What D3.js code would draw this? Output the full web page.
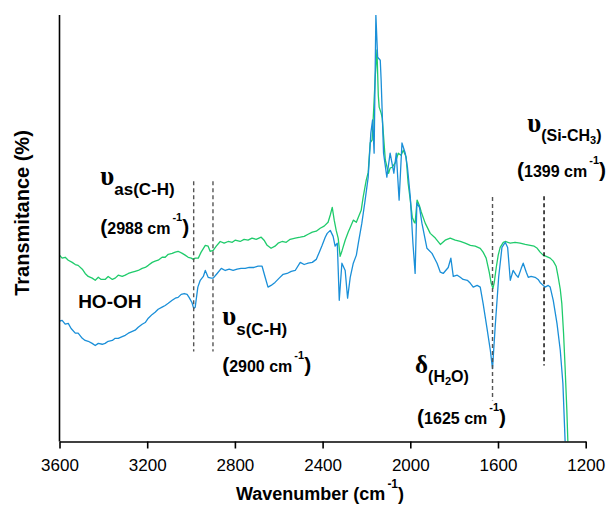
<!DOCTYPE html>
<html>
<head>
<meta charset="utf-8">
<script src="https://cdn.jsdelivr.net/npm/d3@7"></script>
<style>
  body { margin: 0; background: #fff; }
  svg { display: block; }
</style>
</head>
<body>
<script>
const width = 614;
const height = 506;

// spectrum after treatment (green)
const wnGreen = [3600, 3588, 3574, 3560, 3542, 3528, 3515, 3496, 3483, 3469, 3451, 3437, 3423, 3410, 3392, 3378, 3359, 3346, 3332, 3314,
  3300, 3286, 3268, 3255, 3241, 3223, 3209, 3195, 3177, 3164, 3150, 3132, 3118, 3104, 3086, 3072, 3059, 3040, 3027, 3013,
  2999, 2990, 2981, 2967, 2954, 2935, 2922, 2913, 2899, 2885, 2867, 2849, 2831, 2812, 2799, 2776, 2758, 2740, 2722, 2703,
  2680, 2667, 2653, 2635, 2617, 2603, 2585, 2566, 2548, 2525, 2502, 2484, 2466, 2447, 2429, 2411, 2393, 2375, 2365, 2356,
  2347, 2338, 2329, 2320, 2311, 2297, 2283, 2274, 2260, 2246, 2237, 2224, 2215, 2201, 2192, 2183, 2174, 2165, 2160, 2152,
  2146, 2142, 2133, 2128, 2124, 2114, 2105, 2099, 2092, 2083, 2069, 2055, 2042, 2032, 2019, 2010, 2000, 1991, 1982, 1978,
  1969, 1959, 1950, 1932, 1909, 1886, 1863, 1841, 1818, 1795, 1772, 1750, 1726, 1704, 1681, 1668, 1654, 1640, 1631, 1623,
  1617, 1608, 1599, 1590, 1576, 1567, 1544, 1522, 1499, 1476, 1453, 1435, 1421, 1408, 1394, 1380, 1362, 1348, 1335, 1326,
  1316, 1309, 1301, 1294, 1286, 1280];
const tGreen = [43.7, 43.0, 43.2, 42.5, 42.0, 41.5, 41.3, 40.4, 39.4, 38.7, 38.3, 37.8, 38.5, 38.0, 38.0, 38.7, 38.0, 38.3, 39.0, 38.7,
  39.0, 39.4, 39.7, 39.9, 40.1, 40.6, 40.8, 41.3, 42.0, 42.3, 42.5, 43.2, 43.2, 43.9, 44.1, 44.4, 44.6, 44.1, 43.7, 43.2,
  43.0, 42.7, 43.0, 43.0, 44.4, 46.0, 45.8, 44.6, 44.8, 45.8, 46.9, 46.5, 46.9, 46.7, 47.2, 46.9, 47.4, 47.2, 47.7, 47.4,
  47.9, 47.2, 46.0, 45.3, 45.8, 46.5, 46.9, 46.7, 47.4, 47.7, 47.9, 48.1, 48.6, 49.1, 49.3, 50.0, 50.5, 51.4, 53.1, 54.9,
  51.9, 49.5, 47.7, 43.4, 44.8, 47.2, 49.1, 50.2, 51.9, 51.4, 52.6, 54.2, 57.3, 61.3, 63.1, 70.0, 70.7, 80.0, 85.4, 91.8,
  81.2, 78.4, 77.0, 75.8, 73.0, 66.0, 64.1, 62.9, 64.1, 64.3, 65.3, 67.6, 67.1, 68.3, 66.7, 60.6, 56.6, 52.6, 51.4, 51.2,
  56.6, 55.4, 53.8, 51.2, 48.8, 47.7, 46.2, 47.2, 47.7, 47.2, 46.9, 46.5, 46.0, 45.8, 45.3, 44.4, 43.0, 39.7, 37.1, 35.9,
  37.3, 40.8, 43.7, 45.5, 46.7, 46.9, 46.5, 46.7, 46.5, 46.2, 46.0, 45.8, 45.3, 44.4, 43.7, 43.4, 43.0, 42.3, 41.1, 38.7,
  35.7, 32.4, 25.4, 17.4, 7.3, -2.1];

// spectrum before treatment (blue)
const wnBlue = [3600, 3588, 3574, 3560, 3547, 3528, 3515, 3496, 3483, 3469, 3451, 3437, 3423, 3405, 3392, 3378, 3359, 3346, 3332, 3314,
  3300, 3286, 3268, 3255, 3241, 3223, 3209, 3195, 3177, 3164, 3150, 3132, 3118, 3104, 3086, 3072, 3059, 3045, 3031, 3018,
  3009, 2996, 2988, 2981, 2969, 2958, 2944, 2935, 2922, 2908, 2899, 2881, 2862, 2844, 2826, 2808, 2790, 2772, 2753, 2735,
  2713, 2694, 2676, 2662, 2649, 2635, 2617, 2598, 2580, 2562, 2543, 2525, 2502, 2484, 2466, 2447, 2429, 2415, 2402, 2388,
  2379, 2365, 2352, 2343, 2333, 2324, 2312, 2297, 2286, 2274, 2260, 2246, 2237, 2221, 2206, 2192, 2180, 2172, 2165, 2157,
  2149, 2137, 2133, 2122, 2107, 2092, 2075, 2064, 2051, 2038, 2023, 2013, 2000, 1988, 1978, 1970, 1958, 1947, 1924, 1901,
  1878, 1863, 1850, 1827, 1815, 1804, 1786, 1772, 1759, 1740, 1726, 1713, 1695, 1681, 1668, 1651, 1635, 1625, 1613, 1597,
  1582, 1567, 1556, 1544, 1531, 1517, 1508, 1494, 1485, 1471, 1462, 1449, 1431, 1417, 1408, 1394, 1385, 1371, 1362, 1348,
  1331, 1316, 1304, 1294, 1289];
const tBlue = [28.2, 28.4, 27.5, 27.7, 26.5, 25.4, 25.4, 24.2, 23.7, 23.5, 23.0, 22.5, 23.0, 22.8, 23.0, 23.5, 23.7, 24.2, 24.2, 24.6,
  24.9, 25.4, 25.8, 26.1, 26.8, 27.5, 27.9, 28.9, 29.8, 30.3, 31.0, 31.5, 31.9, 32.4, 33.1, 33.6, 33.8, 34.5, 34.7, 34.5,
  33.8, 32.6, 31.2, 31.5, 36.2, 37.8, 38.7, 40.1, 38.5, 38.3, 38.3, 39.4, 40.6, 40.1, 40.4, 40.1, 40.4, 40.6, 40.6, 40.8,
  40.8, 41.1, 41.1, 38.5, 36.2, 36.6, 37.3, 38.3, 39.2, 39.4, 39.9, 40.1, 42.0, 41.5, 41.8, 42.0, 42.7, 44.4, 46.0, 47.9,
  48.8, 49.5, 48.1, 45.8, 46.5, 33.1, 41.8, 40.1, 33.6, 38.5, 41.8, 43.7, 46.5, 51.2, 56.6, 62.0, 72.3, 75.4, 67.6, 100,
  90.1, 89.4, 84.7, 67.6, 62.0, 67.6, 62.9, 67.6, 56.6, 70.0, 67.6, 64.3, 57.3, 46.5, 39.4, 55.9, 54.9, 51.2, 45.3, 44.1,
  41.8, 39.7, 39.4, 40.8, 43.0, 38.7, 39.0, 38.5, 38.0, 37.8, 37.1, 36.2, 36.6, 36.2, 32.4, 26.8, 21.4, 17.1, 26.8, 38.5,
  45.5, 46.7, 45.5, 37.8, 40.1, 39.0, 38.5, 40.6, 41.8, 39.7, 38.5, 38.7, 38.5, 38.0, 37.3, 36.6, 36.2, 36.6, 36.2, 33.1,
  27.7, 21.4, 13.6, 0.2, -4.5];

const xTicks = [3600, 3200, 2800, 2400, 2000, 1600, 1200];

// band markers (dashed)
const markerWn = [2988, 2900, 1625, 1390];
const markerTop = [61.0, 61.0, 57.3, 57.5];
const markerBottom = [21.1, 21.1, 9.6, 17.8];

const sans = "'Liberation Sans', Arial, sans-serif";
const serif = "'Liberation Serif', 'Times New Roman', serif";

const svg = d3.select("body").append("svg")
  .attr("width", width)
  .attr("height", height)
  .attr("viewBox", [0, 0, width, height]);

const x = d3.scaleLinear().domain([3600, 1200]).range([59.5, 585.7]);
const y = d3.scaleLinear().domain([0, 100]).range([441.5, 15]);

svg.append("defs").append("clipPath").attr("id", "plot")
  .append("rect")
  .attr("x", x(3600)).attr("y", y(100))
  .attr("width", x(1200) - x(3600)).attr("height", y(0) - y(100));

const line = d3.line().x(d => x(d[0])).y(d => y(d[1]));

const series = [
  { wn: wnGreen, t: tGreen, color: "#1fcb6b" },
  { wn: wnBlue, t: tBlue, color: "#1a8fd8" },
];

const plot = svg.append("g").attr("clip-path", "url(#plot)");
plot.selectAll("path.spec")
  .data(series)
  .enter()
  .append("path")
  .attr("class", "spec")
  .attr("d", d => line(d.wn.map((w, i) => [w, d.t[i]])))
  .attr("fill", "none")
  .attr("stroke", d => d.color)
  .attr("stroke-width", 1.3)
  .attr("stroke-linejoin", "round");

svg.selectAll("line.marker")
  .data(markerWn)
  .enter()
  .append("line")
  .attr("class", "marker")
  .attr("x1", d => x(d)).attr("x2", d => x(d))
  .attr("y1", (d, i) => y(markerTop[i]))
  .attr("y2", (d, i) => y(markerBottom[i]))
  .attr("stroke", (d, i) => (i === 3 ? "#000" : "#555"))
  .attr("stroke-width", 1.4)
  .attr("stroke-dasharray", "4,3");

// axes
const xAxis = svg.append("g")
  .attr("transform", "translate(0," + y(0) + ")")
  .call(d3.axisBottom(x).tickValues(xTicks).tickFormat(d3.format("d"))
    .tickSize(7).tickSizeOuter(0).tickPadding(10));
xAxis.select(".domain").attr("stroke", "#000").attr("stroke-width", 1.6);
xAxis.selectAll(".tick line").attr("stroke", "#000").attr("stroke-width", 1.6);
xAxis.selectAll(".tick text")
  .attr("font-family", sans)
  .attr("font-size", "17px")
  .attr("fill", "#000");

svg.append("line")
  .attr("x1", x(3600)).attr("x2", x(3600))
  .attr("y1", y(100)).attr("y2", y(0))
  .attr("stroke", "#000")
  .attr("stroke-width", 1.6);

// axis titles
const xTitle = svg.append("text")
  .attr("x", 236)
  .attr("y", 500)
  .attr("font-family", sans)
  .attr("font-weight", "bold")
  .attr("font-size", "18px");
xTitle.append("tspan").text("Wavenumber (cm");
xTitle.append("tspan").attr("font-size", "12px").attr("dy", -12).attr("dx", 2).text("-1");
xTitle.append("tspan").attr("dy", 12).text(")");

svg.append("text")
  .attr("transform", "translate(29,213) rotate(-90)")
  .attr("text-anchor", "middle")
  .attr("font-family", sans)
  .attr("font-weight", "bold")
  .attr("font-size", "20px")
  .text("Transmitance (%)");

// annotations
function label(wn, t, parts) {
  const txt = svg.append("text")
    .attr("x", x(wn))
    .attr("y", y(t))
    .attr("font-family", sans)
    .attr("font-weight", "bold")
    .attr("fill", "#000");
  parts.forEach(p => {
    txt.append("tspan")
      .attr("font-size", p.size + "px")
      .attr("font-family", p.serif ? serif : sans)
      .attr("dy", p.dy || 0)
      .attr("dx", p.dx || 0)
      .text(p.t);
  });
}

function waveLabel(wn, t, num) {
  label(wn, t, [
    { t: "(", size: 21 },
    { t: num + " cm", size: 16 },
    { t: "-1", size: 11, dy: -13, dx: 2 },
    { t: ")", size: 21, dy: 13 },
  ]);
}

label(3414, 60.1, [{ t: "υ", size: 27, serif: true }, { t: "as(C-H)", size: 17, dy: 10 }]);
waveLabel(3414, 48.6, "2988");

label(3515, 31.2, [{ t: "HO-OH", size: 19 }]);

label(2858, 27.2, [{ t: "υ", size: 27, serif: true }, { t: "s(C-H)", size: 17, dy: 10 }]);
waveLabel(2858, 16.2, "2900");

label(1978, 16.0, [
  { t: "δ", size: 25, serif: true },
  { t: "(H", size: 16, dy: 9 },
  { t: "2", size: 11, dy: 3 },
  { t: "O)", size: 16, dy: -3 },
]);
waveLabel(1969, 4.2, "1625");

label(1467, 72.5, [
  { t: "υ", size: 27, serif: true },
  { t: "(Si-CH", size: 16, dy: 9 },
  { t: "3", size: 11, dy: 3 },
  { t: ")", size: 16, dy: -3 },
]);
waveLabel(1513, 62.0, "1399");
</script>
</body>
</html>
